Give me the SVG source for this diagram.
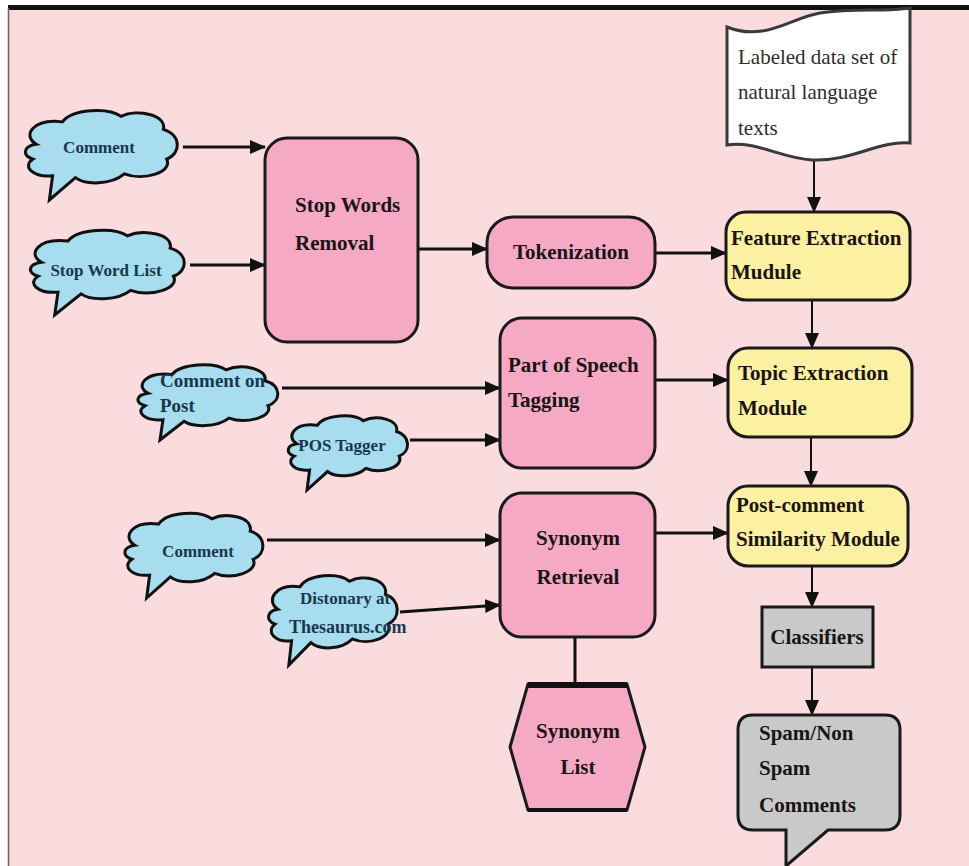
<svg xmlns="http://www.w3.org/2000/svg" xmlns:xlink="http://www.w3.org/1999/xlink" width="969" height="866" viewBox="0 0 969 866">
<defs>
<style>
.bg{fill:#fadcdf}
.pink{fill:#f5a9c5;stroke:#1a1a1a;stroke-width:3}
.yellow{fill:#fcf0a2;stroke:#1a1a1a;stroke-width:3}
.grey{fill:#c9c9c9;stroke:#1a1a1a;stroke-width:3}
.doc{fill:#ffffff;stroke:#3a3a3a;stroke-width:3}
.cloudpath{fill:#a8dcef;stroke:#111;stroke-width:3}
.lbl{font-family:"Liberation Serif","Times New Roman",serif;font-weight:bold;font-size:21px;fill:#1a1414}
.ctext{font-family:"Liberation Serif","Times New Roman",serif;font-weight:bold;font-size:17px;fill:#17384c}
.ctext2{font-family:"Liberation Serif","Times New Roman",serif;font-weight:bold;font-size:19px;fill:#17384c}
.dtext{font-family:"Liberation Serif","Times New Roman",serif;font-size:21px;fill:#2e2e2e}
.conn{stroke:#111;stroke-width:3;fill:none}
.connv{stroke:#111;stroke-width:2;fill:none}
</style>
<marker id="ah" viewBox="0 0 16 14" refX="15" refY="7" markerWidth="16" markerHeight="14" markerUnits="userSpaceOnUse" orient="auto">
<path d="M0,0 L16,7 L0,14 Z" fill="#111"/>
</marker>
<symbol id="cloud" viewBox="0 0 100 100" preserveAspectRatio="none" style="overflow:visible">
<path class="cloudpath" vector-effect="non-scaling-stroke" d="M10,40 C1,31 8,12 26,16 C32,2 54,0 62,10 C72,2 90,8 88,24 C99,30 99,50 90,56 C94,70 76,80 64,72 C56,84 40,84 34,76 L18,100 L20,74 C8,76 1,64 8,56 C1,52 2,42 10,40 Z"/>
</symbol>
</defs>

<rect x="0" y="0" width="969" height="866" fill="#ffffff"/>
<rect class="bg" x="8" y="8" width="961" height="858"/>
<rect x="8" y="5" width="961" height="5" fill="#111"/>
<line x1="8.5" y1="8" x2="8.5" y2="866" stroke="#7a5a5a" stroke-width="1.5"/>

<g id="connectors">
<line class="conn" x1="183" y1="147" x2="265" y2="147" marker-end="url(#ah)"/>
<line class="conn" x1="190" y1="265" x2="265" y2="265" marker-end="url(#ah)"/>
<line class="conn" x1="418" y1="249" x2="487" y2="249" marker-end="url(#ah)"/>
<line class="conn" x1="655" y1="253" x2="726" y2="253" marker-end="url(#ah)"/>
<line class="connv" x1="814" y1="156" x2="814" y2="212" marker-end="url(#ah)"/>
<line class="connv" x1="812" y1="300" x2="812" y2="348" marker-end="url(#ah)"/>
<line class="connv" x1="811" y1="437" x2="811" y2="486" marker-end="url(#ah)"/>
<line class="connv" x1="812" y1="566" x2="812" y2="607" marker-end="url(#ah)"/>
<line class="connv" x1="812" y1="667" x2="812" y2="715" marker-end="url(#ah)"/>
<line class="conn" x1="282" y1="388" x2="500" y2="388" marker-end="url(#ah)"/>
<line class="conn" x1="410" y1="440" x2="500" y2="440" marker-end="url(#ah)"/>
<line class="conn" x1="655" y1="380" x2="728" y2="380" marker-end="url(#ah)"/>
<line class="conn" x1="267" y1="540" x2="500" y2="540" marker-end="url(#ah)"/>
<line class="conn" x1="400" y1="612" x2="500" y2="605" marker-end="url(#ah)"/>
<line class="conn" x1="655" y1="533" x2="728" y2="533" marker-end="url(#ah)"/>
<line class="conn" x1="575" y1="637" x2="575" y2="684"/>
</g>

<g id="cloud-comment1">
<use xlink:href="#cloud" href="#cloud" x="20" y="107" width="163" height="93"/>
<text class="ctext" x="99" y="153" text-anchor="middle">Comment</text>
</g>
<g id="cloud-stopwordlist">
<use xlink:href="#cloud" href="#cloud" x="25" y="227" width="165" height="88"/>
<text class="ctext" x="106" y="276" text-anchor="middle">Stop Word List</text>
</g>
<g id="cloud-commentonpost">
<use xlink:href="#cloud" href="#cloud" x="133" y="362" width="150" height="78"/>
<text class="ctext2" x="160" y="387">Comment on</text>
<text class="ctext2" x="160" y="412">Post</text>
</g>
<g id="cloud-postagger">
<use xlink:href="#cloud" href="#cloud" x="284" y="413" width="128" height="77"/>
<text class="ctext" x="342" y="451" text-anchor="middle">POS Tagger</text>
</g>
<g id="cloud-comment2">
<use xlink:href="#cloud" href="#cloud" x="120" y="510" width="148" height="88"/>
<text class="ctext" x="198" y="557" text-anchor="middle">Comment</text>
</g>
<g id="cloud-dictionary">
<use xlink:href="#cloud" href="#cloud" x="264" y="572" width="138" height="93"/>
<text class="ctext" x="300" y="604">Distonary at</text>
<text class="ctext" x="289" y="633" style="font-size:18px">Thesaurus.com</text>
</g>

<g id="stopwords">
<rect class="pink" x="265" y="138" width="153" height="204" rx="22"/>
<text class="lbl" x="295" y="212">Stop Words</text>
<text class="lbl" x="295" y="250">Removal</text>
</g>
<g id="tokenization">
<rect class="pink" x="487" y="217" width="168" height="71" rx="26"/>
<text class="lbl" x="571" y="259" text-anchor="middle">Tokenization</text>
</g>
<g id="pos">
<rect class="pink" x="500" y="318" width="155" height="150" rx="22"/>
<text class="lbl" x="508" y="372">Part of Speech</text>
<text class="lbl" x="508" y="407">Tagging</text>
</g>
<g id="synonymretrieval">
<rect class="pink" x="500" y="493" width="155" height="144" rx="22"/>
<text class="lbl" x="578" y="545" text-anchor="middle">Synonym</text>
<text class="lbl" x="578" y="584" text-anchor="middle">Retrieval</text>
</g>
<g id="synonymlist">
<polygon class="pink" points="528,684 627,684 645,747 627,810 528,810 510,747"/>
<line x1="528" y1="685" x2="627" y2="685" stroke="#111" stroke-width="6"/>
<line x1="528" y1="810" x2="627" y2="810" stroke="#111" stroke-width="4"/>
<text class="lbl" x="578" y="738" text-anchor="middle">Synonym</text>
<text class="lbl" x="578" y="774" text-anchor="middle">List</text>
</g>

<g id="dataset">
<path class="doc" d="M727,27 C765,42 790,18 820,13 C855,8 885,12 910,8 L910,143 C880,140 850,162 812,160 C780,158 755,140 727,145 Z"/>
<text class="dtext" x="738" y="64">Labeled data set of</text>
<text class="dtext" x="738" y="99">natural language</text>
<text class="dtext" x="738" y="135">texts</text>
</g>
<g id="feature">
<rect class="yellow" x="726" y="212" width="184" height="88" rx="20"/>
<text class="lbl" x="731" y="245">Feature Extraction</text>
<text class="lbl" x="731" y="279">Mudule</text>
</g>
<g id="topic">
<rect class="yellow" x="728" y="348" width="184" height="89" rx="20"/>
<text class="lbl" x="738" y="380">Topic Extraction</text>
<text class="lbl" x="738" y="415">Module</text>
</g>
<g id="similarity">
<rect class="yellow" x="728" y="486" width="180" height="80" rx="20"/>
<text class="lbl" x="736" y="512">Post-comment</text>
<text class="lbl" x="736" y="546">Similarity Module</text>
</g>
<g id="classifiers">
<rect class="grey" x="762" y="607" width="111" height="60"/>
<text class="lbl" x="817" y="644" text-anchor="middle">Classifiers</text>
</g>
<g id="spam">
<path class="grey" d="M753,715 H885 Q900,715 900,730 V815 Q900,830 885,830 H828 L786,866 V830 H753 Q738,830 738,815 V730 Q738,715 753,715 Z"/>
<text class="lbl" x="759" y="740">Spam/Non</text>
<text class="lbl" x="759" y="775">Spam</text>
<text class="lbl" x="759" y="812">Comments</text>
</g>
</svg>
